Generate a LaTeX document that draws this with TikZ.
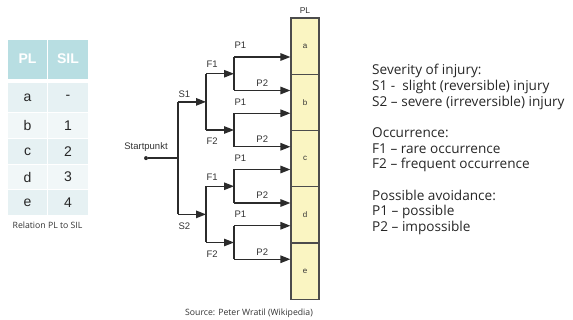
\documentclass[tikz,border=0pt]{standalone}
\usepackage{fontspec}
\setmainfont{Open Sans}
\newfontfamily\arialfont{Liberation Sans}
\usetikzlibrary{
    arrows.meta,
    positioning,
    calc,
}
\definecolor{headteal}{HTML}{B8DEE2}
\definecolor{rowdark}{HTML}{E6F1F3}
\definecolor{rowlight}{HTML}{F1F7F8}
\definecolor{plyellow}{HTML}{FAF5C2}
\definecolor{wiregray}{HTML}{2B2B2B}
\definecolor{textgray}{HTML}{333333}

\begin{document}
\begin{tikzpicture}[x=1pt, y=-1pt,
        tcell/.style={rectangle, draw=white, line width=0.8pt, minimum width=40.5pt,
            inner sep=0pt, font=\arialfont\fontsize{14}{16}\selectfont, text=black!85},
        thead/.style={tcell, fill=headteal, minimum height=40pt, text=white,
            font=\arialfont\bfseries\fontsize{14}{16}\selectfont},
        plcell/.style={rectangle, draw=black!70, fill=plyellow, line width=1.1pt,
            minimum width=28pt, minimum height=56.25pt, inner sep=0pt,
            font=\arialfont\fontsize{8}{9}\selectfont, text=textgray},
        wire/.style={line width=1.3pt, draw=wiregray},
        branch/.style={wire, -{Triangle[length=10pt, width=7.5pt]}},
        lbl/.style={font=\arialfont\fontsize{9.5}{11}\selectfont, text=textgray,
            inner sep=0pt},
        dot/.style={circle, fill=wiregray, minimum size=4pt, inner sep=0pt},
        note/.style={font=\fontsize{8.7}{10}\selectfont, text=textgray},
    ]
    \useasboundingbox (0,0) rectangle (573,320);

    % PL / SIL table
    \node[thead] (h-pl) at (27.5,59) {PL};
    \node[thead] (h-sil) at (68,59) {SIL};
    \foreach \pl/\sil/\y/\h/\c in {a/-/97.5/30/rowdark, b/1/125.5/25.5/rowlight,
            c/2/151.5/25.5/rowdark, d/3/177/25.5/rowlight, e/4/202.5/25.5/rowdark} {
        \node[tcell, fill=\c, minimum height=\h pt] (t-\pl) at (27.5,\y) {\pl};
        \node[tcell, fill=\c, minimum height=\h pt] (t-\pl-sil) at (68,\y) {\sil};
    }
    \node[note] (caption) at (47.5,225) {Relation PL to SIL};

    % PL column
    \foreach \c [count=\i] in {a,b,c,d,e} {
        \node[plcell] (pl-\c) at (305, 18+56.25*\i-28.125) {\c};
    }
    \node[lbl, font=\arialfont\fontsize{8.5}{10}\selectfont, above=4pt of pl-a] (pl-title) {PL};

    % Startpunkt
    \node[dot, label={[lbl, label distance=4pt]above:Startpunkt}] (start) at (146,158.125) {};

    % Junctions
    \foreach \n/\x/\y/\d in {s/178/158.125/56.25, f1/206/101.875/28.125, f2/206/214.375/28.125,
            p1/234/73.75/16.75, p2/234/130/16.75, p3/234/186.25/16.75, p4/234/242.5/16.75} {
        \coordinate (\n) at (\x,\y);
        \coordinate (\n-up) at (\x,\y-\d);
        \coordinate (\n-dn) at (\x,\y+\d);
        \draw[wire] (\n-up) -- (\n-dn);
    }

    % Severity
    \draw[wire] (start) -- (s);
    \draw[branch] (s-up) -- node[lbl, pos=0, above right=4pt and 0pt] {S1} (f1);
    \draw[branch] (s-dn) -- node[lbl, pos=0, below right=7.5pt and 0pt] {S2} (f2);

    % Occurrence
    \foreach \f/\a/\b in {f1/p1/p2, f2/p3/p4} {
        \draw[branch] (\f-up) -- node[lbl, pos=0, above right=5.5pt and 0pt] {F1} (\a);
        \draw[branch] (\f-dn) -- node[lbl, pos=0, below right=7.5pt and 0pt] {F2} (\b);
    }

    % Avoidance
    \foreach \p/\u/\l in {p1/a/b, p2/b/c, p3/c/d, p4/d/e} {
        \draw[branch] (\p-up) -- node[lbl, pos=0, above right=7.5pt and 0pt] {P1} (\p-up -| pl-\u.west);
        \draw[branch] (\p-dn) -- node[lbl, above=3.5pt] {P2} (\p-dn -| pl-\l.west);
    }

    % Legend
    \node[anchor=north west, align=left, inner sep=0pt, text=black!85,
        font=\fontsize{13.6}{15.7}\selectfont] (legend) at (372,64) {%
        Severity of injury:\\
        S1 - \ slight (reversible) injury\\
        S2 -- severe (irreversible) injury\\[15.7pt]
        Occurrence:\\
        F1 -- rare occurrence\\
        F2 -- frequent occurrence\\[15.7pt]
        Possible avoidance:\\
        P1 -- possible\\
        P2 -- impossible};

    \node[note] (source) at (249,313) {Source: Peter Wratil (Wikipedia)};
\end{tikzpicture}
\end{document}
